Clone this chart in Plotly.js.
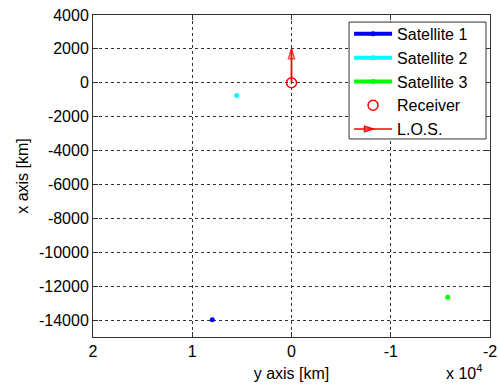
<!DOCTYPE html>
<html>
<head>
<meta charset="utf-8">
<script src="https://cdn.plot.ly/plotly-3.0.1.min.js"></script>
<style>html,body{margin:0;padding:0;background:#fff;}#chart{width:498px;height:385px;}</style>
</head>
<body>
<div id="chart"></div>
<script>
// Data (values in km)
const satNames = ['Satellite 1', 'Satellite 2', 'Satellite 3'];
const satColors = ['#0000ff', '#00ffff', '#00ff00'];
const satY = [7980, 5520, -15740];      // horizontal axis ("y axis")
const satX = [-13980, -750, -12650];    // vertical axis ("x axis")
const receiverY = [0];
const receiverX = [0];
const losY = [0, 0];
const losX = [0, 1980];
const xTickVals = [20000, 10000, 0, -10000, -20000];
const xTickText = ['2', '1', '0', '-1', '-2'];
const yTickVals = [4000, 2000, 0, -2000, -4000, -6000, -8000, -10000, -12000, -14000];
const yTickText = ['4000', '2000', '0', '-2000', '-4000', '-6000', '-8000', '-10000', '-12000', '-14000'];

const traces = [];
for (let i = 0; i < satNames.length; i++) {
  traces.push({
    x: [satY[i]], y: [satX[i]], name: satNames[i], type: 'scatter',
    mode: 'lines+markers',
    line: {color: satColors[i], width: 4},
    marker: {color: satColors[i], size: 5, symbol: 'circle'}
  });
}
traces.push({
  x: receiverY, y: receiverX, name: 'Receiver', type: 'scatter', mode: 'markers',
  marker: {color: '#ff0000', size: 10, symbol: 'circle-open', line: {color: '#ff0000', width: 1.5}}
});
// actual arrow
traces.push({
  x: losY, y: losX, type: 'scatter', mode: 'lines+markers', showlegend: false,
  line: {color: '#ff0000', width: 1.8},
  marker: {color: '#ff0000', size: [0, 10], symbol: 'arrow-open', angleref: 'previous', line: {color: '#ff0000', width: 1.5}}
});
// legend entry for L.O.S.
traces.push({
  x: [null], y: [null], name: 'L.O.S.', type: 'scatter', mode: 'lines+markers',
  line: {color: '#ff0000', width: 1.5},
  marker: {color: '#ff0000', size: 9, symbol: 'arrow-open', angle: 90, line: {color: '#ff0000', width: 1.5}}
});

const font = {family: 'Liberation Sans, Arial, sans-serif', size: 16, color: '#000'};
const layout = {
  width: 498, height: 385,
  margin: {l: 93, r: 8, t: 15, b: 48, pad: 0},
  paper_bgcolor: '#fff', plot_bgcolor: '#fff',
  font: font,
  showlegend: true,
  legend: {
    x: 0.645, y: 0.994, xanchor: 'left', yanchor: 'top',
    bgcolor: 'rgba(0,0,0,0)', borderwidth: 0,
    font: {family: font.family, size: 16, color: '#000'},
    itemwidth: 38, tracegroupgap: 0
  },
  shapes: [{
    type: 'rect', xref: 'paper', yref: 'paper', x0: 0.645, x1: 0.99, y0: 0.615, y1: 0.978,
    fillcolor: '#ffffff', line: {color: '#333', width: 1}, layer: 'above'
  }],
  xaxis: {
    range: [20000, -20000], tickvals: xTickVals, ticktext: xTickText,
    showgrid: true, gridcolor: '#333', griddash: '3px,3px', gridwidth: 1,
    zeroline: false, showline: true, linecolor: '#333', linewidth: 1, mirror: 'ticks',
    ticks: 'inside', ticklen: 5, tickcolor: '#333',
    tickfont: font,
    title: {text: 'y axis [km]', font: font, standoff: 8}
  },
  yaxis: {
    range: [-15000, 4000], tickvals: yTickVals, ticktext: yTickText,
    showgrid: true, gridcolor: '#333', griddash: '3px,3px', gridwidth: 1,
    zeroline: false, showline: true, linecolor: '#333', linewidth: 1, mirror: 'ticks',
    ticks: 'inside', ticklen: 5, tickcolor: '#333',
    tickfont: font,
    title: {text: 'x axis [km]', font: font, standoff: 6}
  },
  annotations: [{
    xref: 'paper', yref: 'paper', x: 0.985, y: -0.146, xanchor: 'right', yanchor: 'bottom',
    text: 'x 10<sup>4</sup>', showarrow: false, font: font
  }]
};
Plotly.newPlot('chart', traces, layout, {displayModeBar: false, staticPlot: true});
</script>
</body>
</html>
